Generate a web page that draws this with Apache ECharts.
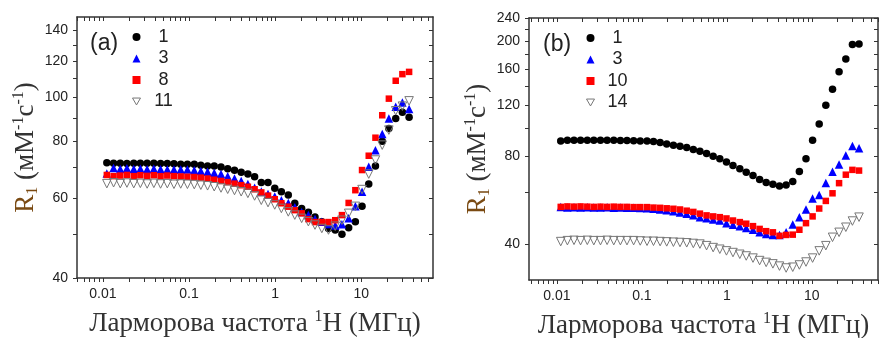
<!DOCTYPE html>
<html>
<head>
<meta charset="utf-8">
<script src="https://cdn.jsdelivr.net/npm/echarts@6/dist/echarts.min.js"></script>
<style>
  html, body { margin: 0; padding: 0; background: #fff; }
  #chart { width: 879px; height: 338px; }
</style>
</head>
<body>
<div id="chart"></div>
<script>
// Larmor frequency, MHz (same points in both panels)
const freq = [0.0111, 0.0133, 0.0159, 0.0190, 0.0228, 0.0272, 0.0326, 0.0390, 0.0467, 0.0559,
  0.0668, 0.0800, 0.0957, 0.115, 0.137, 0.164, 0.196, 0.235, 0.281, 0.337,
  0.403, 0.482, 0.577, 0.690, 0.826, 0.989, 1.18, 1.42, 1.69, 2.03,
  2.43, 2.90, 3.48, 4.16, 4.98, 5.96, 7.13, 8.53, 10.2, 12.2,
  14.6, 17.5, 20.9, 25.1, 30.0, 35.9];

// panel (a)
const a1 = [71.7, 71.5, 71.5, 71.4, 71.5, 71.5, 71.5, 71.5, 71.4, 71.4,
  71.3, 71.2, 71.2, 71.2, 70.8, 70.5, 70.5, 70.2, 69.6, 69.0,
  68.3, 67.7, 66.8, 64.9, 64.9, 63.0, 61.9, 60.9, 58.4, 56.9,
  55.8, 54.5, 53.2, 51.4, 51.0, 49.9, 51.6, 53.2, 57.5, 64.4,
  70.5, 80.0, 85.3, 89.7, 92.6, 90.3];
const a3 = [67.9, 69.8, 69.5, 69.7, 69.5, 69.6, 69.4, 69.6, 69.4, 69.3,
  69.3, 69.3, 69.3, 69.0, 68.8, 68.5, 68.2, 67.7, 67.0, 66.2,
  65.4, 64.4, 63.2, 62.0, 61.2, 60.4, 59.3, 58.5, 57.2, 55.9,
  55.0, 53.9, 53.2, 52.6, 52.2, 52.5, 54.1, 57.5, 61.9, 70.3,
  76.4, 82.9, 89.7, 95.2, 97.3, 94.1];
const a8 = [67.4, 67.0, 67.2, 67.4, 67.0, 67.3, 67.1, 67.3, 67.0, 67.2,
  67.0, 66.9, 66.8, 66.7, 66.5, 66.2, 65.8, 65.4, 65.0, 64.5,
  64.0, 63.5, 62.7, 61.7, 60.7, 59.6, 58.4, 57.4, 56.4, 55.5,
  53.9, 53.1, 53.1, 53.1, 53.6, 55.0, 58.5, 62.4, 69.1, 74.3,
  81.4, 91.2, 99.2, 108.6, 112.3, 113.6];
const a11 = [64.5, 64.8, 64.5, 64.7, 64.5, 64.6, 64.4, 64.6, 64.4, 64.5,
  64.3, 64.4, 64.3, 64.2, 64.0, 63.8, 63.5, 63.1, 62.7, 62.3,
  61.9, 61.4, 60.6, 59.3, 58.6, 57.9, 56.9, 55.9, 55.0, 54.1,
  53.2, 52.3, 51.4, 51.0, 52.0, 53.6, 55.5, 57.5, 62.6, 67.7,
  72.7, 78.4, 84.6, 93.3, 95.5, 98.1];

// panel (b)
const b1 = [90.4, 90.9, 91.0, 91.0, 91.0, 91.0, 91.0, 90.9, 90.9, 90.7,
  90.7, 90.6, 90.5, 90.4, 90.0, 89.3, 88.3, 87.5, 86.7, 85.8,
  84.6, 83.4, 81.9, 80.1, 78.5, 76.6, 74.5, 72.5, 70.6, 68.7,
  66.6, 65.0, 64.2, 63.3, 63.8, 65.5, 71.0, 78.5, 91.0, 103.4,
  120.0, 136.4, 156.8, 173.2, 194.3, 195.3];
const b3 = [53.5, 53.3, 53.4, 53.3, 53.4, 53.3, 53.3, 53.4, 53.2, 53.3,
  53.2, 53.2, 53.1, 53.0, 52.8, 52.5, 52.2, 51.8, 51.3, 50.8,
  50.2, 49.4, 49.0, 48.5, 48.1, 47.1, 46.5, 46.0, 45.3, 44.7,
  43.8, 43.2, 42.9, 42.9, 43.8, 46.6, 49.4, 52.5, 57.3, 58.9,
  64.8, 70.9, 75.0, 80.6, 86.9, 85.4];
const b10 = [53.6, 53.8, 53.7, 53.8, 53.7, 53.6, 53.7, 53.6, 53.7, 53.6,
  53.6, 53.5, 53.5, 53.5, 53.3, 53.2, 53.0, 52.8, 52.5, 52.0,
  51.5, 50.8, 50.1, 49.7, 49.4, 48.9, 48.1, 47.5, 46.9, 46.0,
  45.0, 44.2, 43.8, 42.6, 42.9, 43.0, 44.7, 47.1, 49.7, 52.9,
  56.2, 59.7, 64.7, 69.2, 71.9, 71.5];
const b14 = [40.7, 41.0, 41.1, 41.0, 41.1, 41.0, 41.0, 41.1, 41.0, 41.0,
  41.0, 41.0, 40.9, 40.8, 40.8, 40.7, 40.6, 40.5, 40.4, 40.3,
  40.1, 39.9, 39.4, 38.8, 38.3, 37.8, 37.3, 36.8, 36.3, 35.7,
  35.0, 34.5, 34.1, 33.5, 33.0, 33.2, 33.8, 34.6, 35.7, 37.8,
  39.4, 42.1, 43.8, 45.6, 47.9, 49.4];

// tick values
const xMajor = [0.01, 0.1, 1, 10];
const xMinor = [0.005, 0.006, 0.007, 0.008, 0.009,
  0.02, 0.03, 0.04, 0.05, 0.06, 0.07, 0.08, 0.09,
  0.2, 0.3, 0.4, 0.5, 0.6, 0.7, 0.8, 0.9,
  2, 3, 4, 5, 6, 7, 8, 9,
  20, 30, 40, 50, 60];
const aYMajor = [40, 60, 80, 100, 120, 140];
const aYMinor = [50, 70, 90, 110, 130];
const bYMajor = [40, 80, 120, 160, 200, 240];
const bYMinor = [60, 100, 140, 180, 220];

const labelFont = "'Liberation Sans', Arial, sans-serif";
const titleFont = "'Liberation Serif', 'Times New Roman', serif";
const axisColor = "#333";

const xTitle = "{t|Ларморова частота }{s|1}{t|H (МГц)}";
const yTitle = "{r|R}{rs|1}{t| (мМ}{s|-1}{t|с}{s|-1}{t|)}";

const xTitleRich = {
  t: { fontSize: 27, fontFamily: titleFont, color: "#333", lineHeight: 30 },
  s: { fontSize: 16, fontFamily: titleFont, color: "#333", lineHeight: 14, verticalAlign: "top" },
};
const yTitleRich = {
  r: { fontSize: 27, fontFamily: titleFont, color: "#7a4a12", lineHeight: 30 },
  rs: { fontSize: 16, fontFamily: titleFont, color: "#7a4a12", lineHeight: 14, verticalAlign: "bottom" },
  t: { fontSize: 27, fontFamily: titleFont, color: "#333", lineHeight: 30 },
  s: { fontSize: 16, fontFamily: titleFont, color: "#333", lineHeight: 14, verticalAlign: "top" },
};

// one side of the frame: line + ticks, optionally labels and title
const makeAxis = (grid, min, max, position, ticks, inside, labels, name, nameGap, rich) => ({
  type: "log",
  gridIndex: grid,
  position,
  min,
  max,
  name: name || "",
  nameLocation: "middle",
  nameGap: nameGap || 0,
  nameRotate: position === "left" ? 90 : 0,
  nameTextStyle: rich ? { rich } : {},
  axisLine: { show: true, lineStyle: { color: axisColor, width: 1.5 } },
  splitLine: { show: false },
  axisTick: {
    show: true,
    inside,
    length: 4,
    customValues: ticks,
    lineStyle: { color: axisColor, width: 1 },
  },
  axisLabel: {
    show: !!labels,
    customValues: labels || [],
    margin: 9,
    fontSize: 14,
    fontFamily: labelFont,
    color: "#222",
    formatter: (v) => (v < 1 ? String(v) : String(Math.round(v))),
  },
});

const xAxes = [];
const yAxes = [];
const panels = [
  { xmin: 0.005, xmax: 68, ymin: 40, ymax: 150, yMajor: aYMajor, yMinor: aYMinor },
  { xmin: 0.0047, xmax: 60, ymin: 30, ymax: 240, yMajor: bYMajor, yMinor: bYMinor },
];
panels.forEach((p, g) => {
  const xt = xMajor.concat(xMinor).filter((v) => v >= p.xmin && v <= p.xmax);
  const yt = p.yMajor.concat(p.yMinor);
  xAxes.push(
    makeAxis(g, p.xmin, p.xmax, "bottom", xt, false, xMajor, xTitle, 31, xTitleRich),
    makeAxis(g, p.xmin, p.xmax, "top", xt, true)
  );
  yAxes.push(
    makeAxis(g, p.ymin, p.ymax, "left", yt, false, p.yMajor, yTitle, 36, yTitleRich),
    makeAxis(g, p.ymin, p.ymax, "right", yt, true)
  );
});

const styles = {
  circle: { symbol: "circle", symbolSize: 7.5, itemStyle: { color: "#000", opacity: 1 } },
  triangle: { symbol: "triangle", symbolSize: 8.5, itemStyle: { color: "#0000ff", opacity: 1 } },
  square: { symbol: "rect", symbolSize: 6.5, itemStyle: { color: "#ff0000", opacity: 1 } },
  down: {
    symbol: "triangle", symbolSize: 8.5, symbolRotate: 180,
    itemStyle: { color: "rgba(255,255,255,0)", borderColor: "#777", borderWidth: 1, opacity: 1 },
  },
};

const makeSeries = (name, values, grid, style) => ({
  name,
  type: "scatter",
  xAxisIndex: grid * 2,
  yAxisIndex: grid * 2,
  data: freq.map((f, i) => [f, values[i]]),
  ...styles[style],
  emphasis: { disabled: true },
});

const series = [
  makeSeries("a1", a1, 0, "circle"),
  makeSeries("a3", a3, 0, "triangle"),
  makeSeries("a8", a8, 0, "square"),
  makeSeries("a11", a11, 0, "down"),
  makeSeries("b1", b1, 1, "circle"),
  makeSeries("b3", b3, 1, "triangle"),
  makeSeries("b10", b10, 1, "square"),
  makeSeries("b14", b14, 1, "down"),
];

const downIcon = "path://M0,0 L10,0 L5,8.66 Z";

const makeLegend = (names, left, top) => ({
  data: names.map((n, i) => (i === 3
    ? { name: n, icon: downIcon, itemStyle: { color: "rgba(255,255,255,0)", borderColor: "#777", borderWidth: 1 } }
    : { name: n })),
  orient: "vertical",
  left,
  top,
  itemWidth: 8,
  itemHeight: 8,
  itemGap: 3.5,
  selectedMode: false,
  formatter: (n) => "{c|" + n.slice(1) + "}",
  textStyle: {
    fontSize: 18,
    fontFamily: labelFont,
    color: "#222",
    rich: { c: { width: 36, align: "center", fontSize: 18, lineHeight: 22, fontFamily: labelFont } },
  },
});

const chart = echarts.init(document.getElementById("chart"));
chart.setOption({
  animation: false,
  backgroundColor: "#fff",
  title: [
    { text: "(a)", left: 85, top: 27, textStyle: { fontSize: 23, fontWeight: "normal", fontFamily: labelFont, color: "#222" } },
    { text: "(b)", left: 538, top: 28, textStyle: { fontSize: 23, fontWeight: "normal", fontFamily: labelFont, color: "#222" } },
  ],
  legend: [
    makeLegend(["a1", "a3", "a8", "a11"], 127, 23),
    makeLegend(["b1", "b3", "b10", "b14"], 581, 24),
  ],
  grid: [
    { left: 77, top: 17, width: 356, height: 261, outerBoundsMode: "none" },
    { left: 529, top: 18, width: 349, height: 262, outerBoundsMode: "none" },
  ],
  xAxis: xAxes,
  yAxis: yAxes,
  series,
});
</script>
</body>
</html>
